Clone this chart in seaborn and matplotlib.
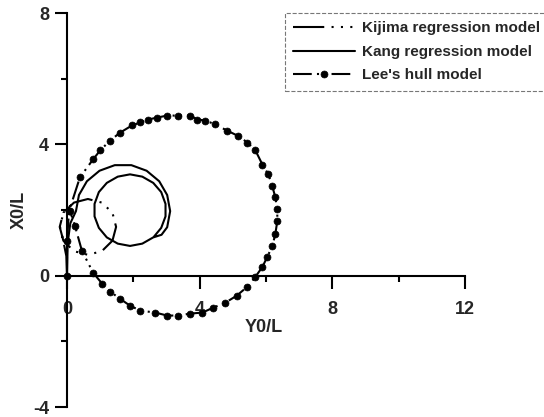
import matplotlib
matplotlib.use("Agg")
import matplotlib.pyplot as plt
import seaborn as sns
import pandas as pd

# Turning-circle trajectories (Y0/L, X0/L)
kijima_y0 = [0, -0.02, -0.12, -0.21, -0.11, 0.21, 0.63, 1.05, 1.37, 1.48, 1.37,
             1.05, 0.63, 0.21, -0.11, -0.22, -0.11, 0.08]
kijima_x0 = [0, 0.6, 1.1, 1.49, 1.92, 2.23, 2.34, 2.23, 1.92, 1.49, 1.07,
             0.75, 0.64, 0.75, 1.07, 1.49, 1.92, 2.14]

kang_y0 = [0, 0.02, 0.1, 0.27, 0.36, 0.60, 0.98, 1.44, 1.94, 2.40, 2.78, 3.02,
           3.11, 3.02, 2.85, 2.60, 2.27, 1.90, 1.53, 1.20, 0.96, 0.83, 0.83,
           0.96, 1.20, 1.53, 1.90, 2.27, 2.60, 2.84, 2.97, 2.97, 2.84, 2.62]
kang_x0 = [0, 1.0, 1.6, 1.97, 2.46, 2.88, 3.20, 3.37, 3.37, 3.20, 2.88, 2.46,
           1.97, 1.48, 1.25, 1.17, 0.98, 0.91, 0.98, 1.17, 1.46, 1.81, 2.19,
           2.55, 2.83, 3.02, 3.09, 3.02, 2.83, 2.55, 2.19, 1.81, 1.46, 1.19]

lee_y0 = [0, 0, 0.06, 0.39, 0.79, 1.0, 1.3, 1.6, 1.96, 2.21, 2.45, 2.72, 3.02,
          3.35, 3.72, 3.93, 4.17, 4.47, 4.83, 5.14, 5.44, 5.68, 5.89, 6.07,
          6.19, 6.28, 6.34, 6.34, 6.28, 6.19, 6.04, 5.89, 5.68, 5.44, 5.11,
          4.77, 4.41, 4.08, 3.72, 3.35, 3.02, 2.66, 2.21, 1.9, 1.6, 1.3, 1.06,
          0.79, 0.45, 0.24, 0.09]
lee_x0 = [0, 1.06, 1.97, 3.0, 3.55, 3.82, 4.12, 4.36, 4.58, 4.67, 4.76, 4.82,
          4.88, 4.88, 4.88, 4.76, 4.73, 4.61, 4.42, 4.27, 4.06, 3.82, 3.39,
          3.09, 2.73, 2.39, 2.03, 1.67, 1.27, 0.91, 0.58, 0.27, -0.03, -0.33,
          -0.61, -0.82, -0.97, -1.12, -1.15, -1.21, -1.21, -1.12, -1.06, -0.91,
          -0.7, -0.48, -0.24, 0.09, 0.76, 1.52, 1.97]

series_labels = ["Kijima regression model", "Kang regression model", "Lee's hull model"]
x_ticks = [0, 4, 8, 12]
y_ticks = [-4, 0, 4, 8]
x_minor = [2, 6, 10]
y_minor = [-2, 2, 6]

sns.set_style("white")
plt.rcParams["font.family"] = ["Liberation Sans", "DejaVu Sans"]
plt.rcParams["font.weight"] = "bold"

fig = plt.figure(figsize=(5.44, 4.17), dpi=100)
ax = fig.add_axes([0, 0, 1, 1])
ax.set_facecolor("white")

kij = pd.DataFrame({"Y0": kijima_y0, "X0": kijima_x0})
kan = pd.DataFrame({"Y0": kang_y0, "X0": kang_x0})
lee = pd.DataFrame({"Y0": lee_y0, "X0": lee_x0})

sns.lineplot(data=kij, x="Y0", y="X0", sort=False, estimator=None, ax=ax,
             color="black", linewidth=1.5,
             linestyle=(0, (15, 3.5, 1, 3.5, 1, 3.5, 1, 3.5)),
             label=series_labels[0])
sns.lineplot(data=kan, x="Y0", y="X0", sort=False, estimator=None, ax=ax,
             color="black", linewidth=1.5, linestyle="-", label=series_labels[1])
sns.lineplot(data=lee, x="Y0", y="X0", sort=False, estimator=None, ax=ax,
             color="black", linewidth=1.5,
             linestyle=(0, (9, 2.5, 1, 2.5, 1, 2.5)), marker="o", markersize=5,
             markerfacecolor="black", markeredgecolor="black",
             markeredgewidth=0.5, label=series_labels[2])

# Axes crossing at the origin
ax.set_xlim(-2.02, 14.38)
ax.set_ylim(-4.30, 8.40)
for side in ["top", "right"]:
    ax.spines[side].set_visible(False)
ax.spines["left"].set_position(("data", 0))
ax.spines["bottom"].set_position(("data", 0))
ax.spines["left"].set_bounds(-4, 8)
ax.spines["bottom"].set_bounds(0, 12)
for side in ["left", "bottom"]:
    ax.spines[side].set_linewidth(1.5)
    ax.spines[side].set_color("black")

ax.set_xticks(x_ticks)
ax.set_yticks(y_ticks)
ax.set_xticks(x_minor, minor=True)
ax.set_yticks(y_minor, minor=True)
ax.set_xticklabels([str(v) for v in x_ticks])
ax.set_yticklabels([str(v) for v in y_ticks])
ax.tick_params(axis="both", which="major", direction="out", length=9,
               width=1.5, labelsize=13, color="black")
ax.tick_params(axis="x", which="major", pad=9)
ax.tick_params(axis="y", which="major", pad=4)
ax.tick_params(axis="both", which="minor", direction="out", length=4,
               width=1.5, color="black")
ax.tick_params(axis="x", which="both", bottom=True)
ax.tick_params(axis="y", which="both", left=True)
for lab in ax.get_xticklabels() + ax.get_yticklabels():
    lab.set_fontweight("bold")

ax.set_xlabel("Y0/L", fontsize=13, fontweight="bold")
ax.set_ylabel("X0/L", fontsize=13, fontweight="bold")
ax.xaxis.set_label_coords(264 / 544, 1 - 328 / 417)
ax.yaxis.set_label_coords(19 / 544, 1 - 210 / 417)
ax.xaxis.label.set_va("center")
ax.yaxis.label.set_va("center")

leg = ax.legend(loc="upper left", bbox_to_anchor=(285 / 544, 1 - 13 / 417),
                bbox_transform=fig.transFigure, borderaxespad=0,
                handlelength=4.0, handletextpad=0.5, labelspacing=0.62,
                borderpad=0.55, numpoints=1, fancybox=False,
                prop={"family": "Liberation Sans", "weight": "bold", "size": 11})
frame = leg.get_frame()
frame.set_edgecolor("#555555")
frame.set_linestyle("--")
frame.set_linewidth(0.8)

fig.savefig("out.png", dpi=100)
